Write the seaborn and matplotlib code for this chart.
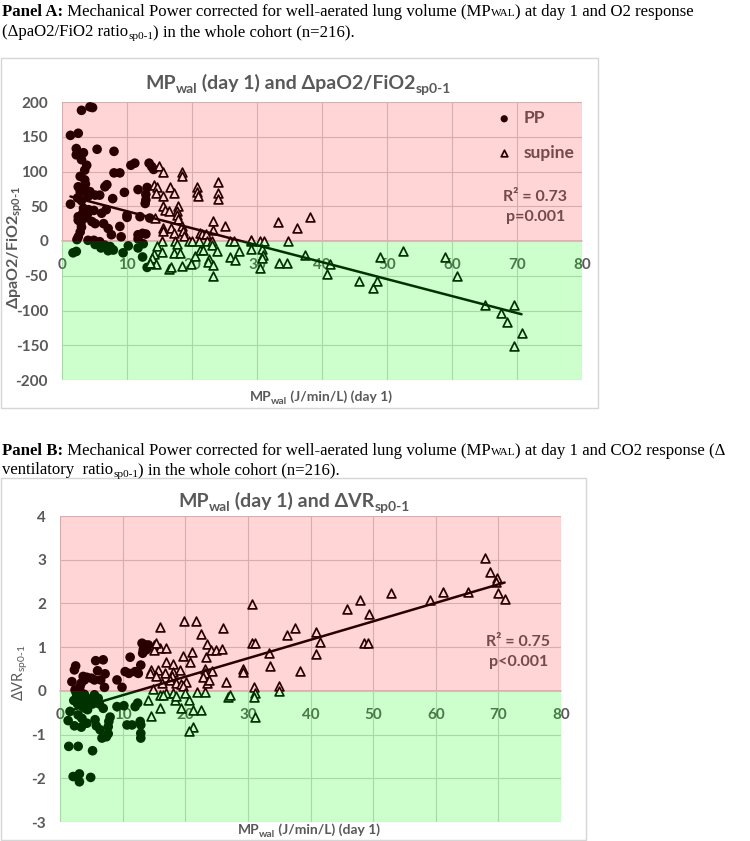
import matplotlib
matplotlib.use("Agg")
import numpy as np
import pandas as pd
import matplotlib.pyplot as plt
import seaborn as sns
from matplotlib.patches import Rectangle

sns.set_theme(style="white")
plt.rcParams["font.family"] = ["Lato", "DejaVu Sans"]
plt.rcParams["mathtext.fontset"] = "custom"
plt.rcParams["mathtext.rm"] = "Lato"
plt.rcParams["mathtext.bf"] = "Lato:bold"
plt.rcParams["axes.unicode_minus"] = False

W, H = 750, 841
GREY = "#595959"

# ---------------- data ----------------
# Panel A: MPwal (day 1) vs delta paO2/FiO2
ppA_x = [3.0, 4.3, 4.7, 1.3, 2.5, 2.2, 3.3, 2.2, 5.4, 8.0, 3.0, 3.8, 3.5, 8.0, 8.9, 10.6, 11.2, 13.4, 13.8, 14.1,
         2.8, 3.5, 6.9, 6.6, 2.5, 2.8, 4.3, 5.1, 5.8, 4.0, 7.8, 9.6, 11.7, 13.1, 12.9, 12.9, 12.8, 1.3, 3.3, 4.1,
         4.9, 6.1, 2.5, 3.5, 2.5, 5.1, 6.4, 3.0, 7.1, 8.9, 10.0, 10.0, 12.0, 13.5, 7.6, 9.1, 11.7, 12.4, 12.9, 11.7,
         2.8, 2.5, 2.3, 4.0, 4.9, 5.8, 5.1, 6.6, 7.4, 7.9, 7.1, 1.7, 2.2, 10.2, 9.4, 11.7, 12.5, 12.4, 13.1,
         3.6, 2.4, 3.0, 3.9, 4.6, 3.2, 6.0, 7.7, 2.9, 6.8, 3.6]
ppA_y = [188, 193, 192, 152, 155, 133, 127, 124, 132, 129, 117, 109, 102, 98, 98, 109, 112, 112, 107, 103,
         93, 88, 81, 78, 78, 71, 71, 66, 66, 64, 61, 70, 74, 77, 67, 59, 54, 53, 47, 45,
         44, 40, 35, 33, 30, 25, 25, 20, 18, 21, 37, 34, 35, 33, 9, 6, 9, 11, 10, 3,
         13, 6, 2, 1, 1, -1, -5, -6, -8, -13, -14, -17, -15, -7, -17, -10, -4, -23, -38,
         82, 62, 58, 38, 28, 40, -10, -12, 26, 45, 71]
supA_x = [14.9, 15.5, 18.5, 18.5, 14.1, 14.6, 16.6, 17.2, 14.4, 20.7, 20.8, 20.9, 24.0, 24.0, 24.0,
          15.5, 15.6, 15.9, 16.4, 17.9, 17.7, 17.7, 17.8, 14.3, 15.6, 15.6, 16.8, 17.2, 18.5, 18.6, 18.7,
          23.3, 23.3, 25.0, 21.2, 21.6, 22.1, 15.4, 17.4, 17.7, 19.5, 20.0, 21.0, 22.3, 23.1,
          25.8, 26.4, 29.1, 30.5, 31.0, 29.0, 33.3, 36.1, 38.2, 34.8,
          14.6, 15.4, 14.1, 13.8, 14.4, 13.6, 17.2, 18.2, 16.4, 16.8, 18.5, 19.8,
          20.5, 21.2, 21.7, 23.0, 23.8, 22.6, 22.4, 23.3, 23.3, 25.8, 26.6, 27.2, 29.1, 30.7, 30.9, 30.7, 30.5,
          33.4, 34.6, 37.4, 40.8, 41.3, 45.7, 47.8, 48.4, 48.9, 52.5, 58.9, 60.7,
          65.0, 67.5, 68.4, 69.6, 70.7, 69.6]
supA_y = [108, 99, 100, 93, 81, 77, 77, 69, 69, 78, 70, 65, 85, 69, 61,
          65, 50, 45, 43, 50, 43, 38, 31, 33, 19, 14, 19, 12, 22, 14, 7,
          29, 16, 21, 12, 10, 10, 0, 0, -5, 0, 0, 0, 0, 0,
          0, 0, 0, 0, 0, 2, 27, 18, 35, 0,
          -7, -16, -18, -25, -33, -31, -17, -17, -40, -38, -36, -33,
          -21, -13, -13, -6, -15, -26, -30, -35, -50, -23, -28, -14, -11, -12, -20, -25, -39,
          -32, -32, -20, -47, -33, -57, -67, -57, -23, -14, -23, -51,
          -92, -103, -117, -92, -133, -151]

# Panel B: MPwal (day 1) vs delta ventilatory ratio
ppB_x = [2.5, 2.3, 5.7, 6.9, 6.0, 7.2, 4.3, 3.9, 5.0, 1.9, 3.4, 5.5, 6.5, 7.1, 9.1, 9.9, 11.2, 10.4, 12.0, 12.9,
         13.1, 13.6, 13.3, 13.2, 12.5, 14.1, 13.8, 11.0, 3.7, 3.2, 2.4, 2.7, 3.2, 3.6, 4.3, 5.0, 5.5, 6.1, 6.9, 4.4,
         1.6, 2.9, 1.3, 2.3, 3.5, 3.4, 4.3, 5.6, 5.8, 6.4, 7.7, 7.8, 8.0, 6.7, 7.4, 7.7, 9.1, 10.2, 10.7, 11.5,
         12.0, 12.4, 12.8, 12.9, 12.9, 12.9, 1.4, 2.9, 5.2, 2.1, 3.1, 3.1, 4.9,
         2.6, 3.0, 3.9, 4.6, 5.2, 2.8, 3.4, 4.0, 2.2, 6.3]
ppB_y = [0.57, 0.48, 0.69, 0.71, 0.46, 0.39, 0.31, 0.25, 0.29, 0.21, 0.18, 0.25, 0.25, 0.08, 0.25, 0.08, 0.77, 0.44, 0.44, 0.59,
         1.09, 1.05, 0.94, 0.86, 0.40, 1.05, 0.94, 0.40, 0.33, 0.10, 0.02, -0.13, -0.24, -0.36, -0.17, -0.21, -0.09, -0.17, -0.40, -0.43,
         -0.47, -0.55, -0.68, -0.80, -0.63, -0.83, -0.74, -0.66, -0.80, -0.89, -0.82, -0.70, -0.60, -1.08, -1.05, -0.98, -0.36, -0.34, -0.78, -0.78,
         -0.36, -0.28, -0.70, -0.78, -0.97, -1.08, -1.27, -1.27, -1.37, -1.96, -1.90, -2.08, -1.98,
         -0.05, -0.15, -0.08, -0.25, -0.30, -0.30, -0.05, -0.40, -0.22, -0.30]
supB_x = [15.9, 21.7, 19.8, 22.5, 26.0, 30.6, 15.0, 16.0, 16.9, 15.0, 15.4,
          16.9, 18.1, 19.6, 20.8, 21.0, 23.3, 23.5, 24.1, 24.9, 25.8,
          14.6, 15.7, 14.3, 15.4, 16.8, 18.1, 19.1, 17.9, 16.3, 17.6, 18.6, 19.4, 20.1, 19.7,
          23.2, 24.2, 23.1, 22.8, 23.4, 23.8, 26.5, 29.2, 29.2, 30.6, 31.2, 33.4, 33.5, 36.2, 37.6, 38.3,
          40.9, 41.5, 40.9, 45.9, 47.9, 49.4, 48.5, 49.2, 52.8, 59.1, 61.1, 65.2, 67.9, 68.7, 69.8, 69.6, 69.9, 71.0,
          30.9, 31.1, 34.9, 34.9, 14.1, 14.6, 15.9, 15.9, 17.0, 18.1, 18.4, 18.6, 19.4, 20.6,
          21.3, 21.3, 20.6, 22.5, 20.0, 21.8, 23.1, 26.8, 27.2, 31.0, 31.2, 16.5, 14.8]
supB_y = [1.47, 1.60, 1.59, 1.30, 1.43, 1.98, 1.05, 0.98, 0.98, 0.94, 1.10,
          0.65, 0.61, 0.79, 0.67, 0.90, 0.77, 1.08, 0.94, 0.94, 0.96,
          0.48, 0.48, 0.40, 0.33, 0.40, 0.44, 0.48, 0.33, 0.18, 0.25, 0.19, 0.15, 0.21, 0.10,
          0.50, 0.46, 0.41, 0.31, 0.18, 0.25, 0.21, 0.50, 0.42, 1.09, 1.09, 0.86, 0.56, 1.27, 1.43, 0.46,
          1.34, 1.11, 0.85, 1.87, 2.07, 1.76, 1.09, 1.09, 2.25, 2.07, 2.27, 2.27, 3.04, 2.73, 2.58, 2.48, 2.24, 2.10,
          0.08, -0.05, 0.10, -0.01, -0.21, -0.57, -0.40, -0.09, -0.04, -0.05, -0.21, -0.11, -0.40, -0.21,
          -0.44, -0.82, -0.91, -0.44, -0.05, -0.02, -0.02, -0.13, -0.09, -0.13, -0.60, -0.10, 0.05]

X_TICKS = list(range(0, 81, 10))
YTICKS_A = list(range(-200, 201, 50))
YTICKS_B = list(range(-3, 5))


def panel(ax, pp_x, pp_y, sup_x, sup_y, yticks):
    pp = pd.DataFrame({"mp": pp_x, "delta": pp_y, "pos": "PP"})
    sup = pd.DataFrame({"mp": sup_x, "delta": sup_y, "pos": "supine"})
    both = pd.concat([pp, sup], ignore_index=True)

    sns.scatterplot(data=pp, x="mp", y="delta", ax=ax, marker="o", color="black",
                    s=48, edgecolor="none", label="PP", zorder=3)
    sns.scatterplot(data=sup, x="mp", y="delta", ax=ax, marker="^", facecolor="white",
                    edgecolor="black", linewidth=1.25, s=40, label="supine", zorder=3)
    sns.regplot(data=both, x="mp", y="delta", ax=ax, scatter=False, ci=None,
                line_kws=dict(color="black", lw=1.8, zorder=4))

    ax.set_xlim(0, 80)
    ax.set_ylim(yticks[0], yticks[-1])
    ax.set_xticks(X_TICKS)
    ax.set_yticks(yticks)
    ax.grid(True, color="#d0d0d0", lw=0.8)
    ax.set_axisbelow(True)
    for s in ["top", "right", "left"]:
        ax.spines[s].set_visible(False)
    ax.spines["bottom"].set_position(("data", 0))
    ax.spines["bottom"].set_color("#d0d0d0")
    ax.tick_params(axis="x", length=0, pad=12, labelsize=11, labelcolor=GREY)
    ax.tick_params(axis="y", length=0, pad=10, labelsize=11, labelcolor=GREY)
    for lab in ax.get_xticklabels() + ax.get_yticklabels():
        lab.set_fontweight("bold")
    ax.set_xlabel("")
    ax.set_ylabel("")

    # translucent bands drawn on top, like the original chart
    ax.axhspan(0, yticks[-1], color=(1, 0, 0), alpha=0.165, lw=0, zorder=10)
    ax.axhspan(yticks[0], 0, color=(0, 1, 0), alpha=0.2, lw=0, zorder=10)


fig = plt.figure(figsize=(W / 100, H / 100), dpi=100)


def text_runs(x_px, y_px, runs, family="Liberation Serif", color="black", center=False):
    # runs: (text, size, weight, drop in px) laid out left to right on one baseline
    r = fig.canvas.get_renderer()
    texts = []
    for s, size, weight, dy in runs:
        t = fig.text(0, 1 - (y_px + dy) / H, s, fontsize=size, fontweight=weight,
                     family=family, va="baseline", ha="left", color=color)
        texts.append((t, t.get_window_extent(r).width))
    x = x_px - sum(w for _, w in texts) / 2 if center else x_px
    for t, w in texts:
        t.set_x(x / W)
        x += w


# chart frames
fig.add_artist(Rectangle((1 / W, 1 - 408 / H), 597 / W, 350 / H, transform=fig.transFigure,
                         fill=False, ec="#d6d6d6", lw=1))
fig.add_artist(Rectangle((1 / W, 1 - 840 / H), 585 / W, 362 / H, transform=fig.transFigure,
                         fill=False, ec="#d6d6d6", lw=1))

SANS = ["Lato", "DejaVu Sans"]

axA = fig.add_axes([62 / W, 1 - 380 / H, 520 / W, 278 / H])
panel(axA, ppA_x, ppA_y, supA_x, supA_y, YTICKS_A)
leg = axA.legend(loc="upper right", bbox_to_anchor=(0.985, 0.97), frameon=False,
                 prop=dict(size=12.5, weight="bold"), labelcolor=GREY, labelspacing=1.05,
                 handletextpad=0.1, markerscale=0.75, borderpad=0, borderaxespad=0)
leg.set_zorder(5)
axA.text(72.8, 63, "R² = 0.73", ha="center", va="center", fontsize=11.5, weight="bold", color=GREY, zorder=5)
axA.text(72.8, 35, "p=0.001", ha="center", va="center", fontsize=11.5, weight="bold", color=GREY, zorder=5)
axA.text(-0.09, 0.478, "ΔpaO2/FiO2$_{\\mathregular{ sp0\u20101}}$", transform=axA.transAxes, rotation=90,
         ha="center", va="center", fontsize=11.5, weight="bold", color=GREY)
text_runs(321, 401, [("MP", 10, "bold", 0), ("wal", 7.5, "bold", 3), (" (J/min/L) (day 1)", 10, "bold", 0)],
          family=SANS, color=GREY, center=True)
text_runs(298, 89, [("MP", 14, "bold", 0), ("wal", 10, "bold", 4),
                    (" (day 1) and ΔpaO2/FiO2", 14, "bold", 0), ("sp0-1", 10, "bold", 4)],
          family=SANS, color=GREY, center=True)

axB = fig.add_axes([60 / W, 1 - 822 / H, 501 / W, 306 / H])
panel(axB, ppB_x, ppB_y, supB_x, supB_y, YTICKS_B)
axB.get_legend().remove()
axB.text(73.2, 1.12, "R² = 0.75", ha="center", va="center", fontsize=11.5, weight="bold", color=GREY, zorder=5)
axB.text(73.2, 0.66, "p<0.001", ha="center", va="center", fontsize=11.5, weight="bold", color=GREY, zorder=5)
axB.text(-0.08, 0.487, "ΔVR$_{\\mathregular{sp0\u20101}}$", transform=axB.transAxes, rotation=90,
         ha="center", va="center", fontsize=10.5, color=GREY)
text_runs(309, 834, [("MP", 10, "bold", 0), ("wal", 7.5, "bold", 3), (" (J/min/L) (day 1)", 10, "bold", 0)],
          family=SANS, color=GREY, center=True)
text_runs(294, 507, [("MP", 14, "bold", 0), ("wal", 10, "bold", 4),
                     (" (day 1) and ΔVR", 14, "bold", 0), ("sp0-1", 10, "bold", 4)],
          family=SANS, color=GREY, center=True)

# ---------------- captions ----------------
CAP = 12.1
SUB = CAP * 0.68
text_runs(2, 16, [("Panel A:", CAP, "bold", 0),
                  (" Mechanical Power corrected for well-aerated lung volume (MP", CAP, "normal", 0),
                  ("WAL", SUB, "normal", 0),
                  (") at day 1 and O2 response", CAP, "normal", 0)])
text_runs(2, 36, [("(ΔpaO2/FiO2 ratio", CAP, "normal", 0), ("sp0-1", SUB, "normal", 3),
                  (") in the whole cohort (n=216).", CAP, "normal", 0)])
text_runs(2, 455, [("Panel B:", CAP, "bold", 0),
                   (" Mechanical Power corrected for well-aerated lung volume (MP", CAP, "normal", 0),
                   ("WAL", SUB, "normal", 0),
                   (") at day 1 and CO2 response (Δ", CAP, "normal", 0)])
text_runs(2, 474, [("ventilatory  ratio", CAP, "normal", 0), ("sp0-1", SUB, "normal", 3),
                   (") in the whole cohort (n=216).", CAP, "normal", 0)])

fig.savefig("out.png", dpi=100)
